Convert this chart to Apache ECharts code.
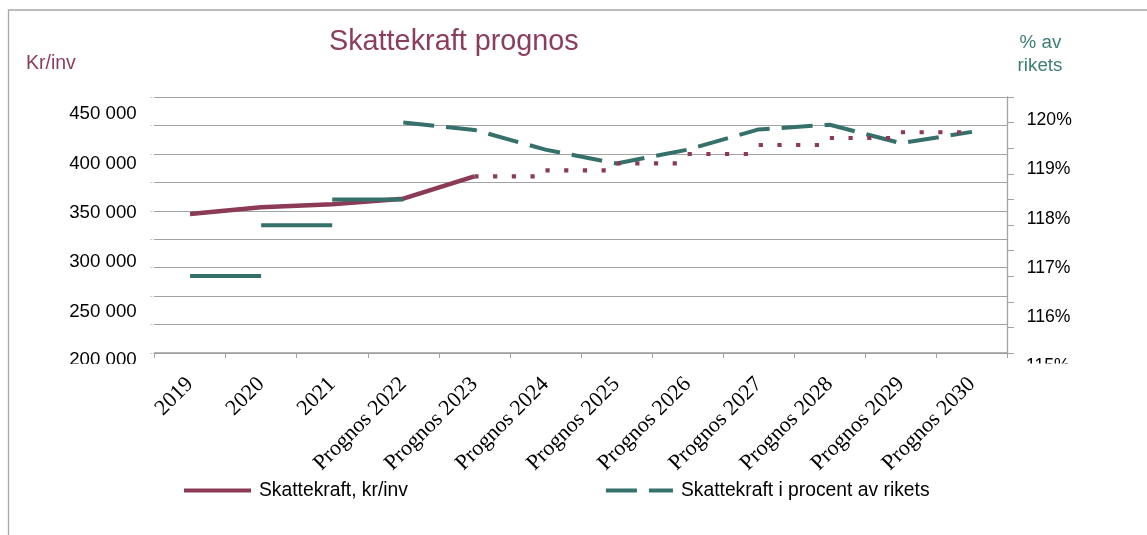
<!DOCTYPE html>
<html>
<head>
<meta charset="utf-8">
<script src="https://cdn.jsdelivr.net/npm/echarts@6/dist/echarts.min.js"></script>
<style>
html,body{margin:0;padding:0;background:#ffffff;}
#c{width:1147px;height:535px;}
</style>
</head>
<body>
<div id="c"></div>
<script>
// ---- data ----
const categories = ['2019', '2020', '2021', 'Prognos 2022', 'Prognos 2023', 'Prognos 2024',
  'Prognos 2025', 'Prognos 2026', 'Prognos 2027', 'Prognos 2028', 'Prognos 2029', 'Prognos 2030'];
// Skattekraft kr/inv, solid line 2019–2023
const krHistorik = [348800, 355600, 358600, 364300, 386900];
// Skattekraft kr/inv, dotted step segments starting at Prognos 2023 … Prognos 2029
const krStegStart = 'Prognos 2023';
const krPrognosSteg = [386900, 393000, 400100, 409500, 418600, 425700, 431500];
// Skattekraft i procent av rikets, solid step segments 2019–2021
const procentHistorik = [116.84, 117.87, 118.39];
// Skattekraft i procent av rikets, dashed line Prognos 2022 … Prognos 2030
const procentStart = 'Prognos 2022';
const procentPrognos = [119.95, 119.80, 119.40, 119.12, 119.40, 119.81, 119.905, 119.53, 119.76];
// tick labels
const leftTicks = [250000, 300000, 350000, 400000, 450000];
const rightTicks = [116, 117, 118, 119, 120];
const leftClippedTick = 200000;
const rightClippedTick = 115;

// ---- styles ----
const MAROON = '#8B3A57';
const TEAL = '#35706B';
const TITLE_C = '#8C3D5C';
const TEAL_TXT = '#3C7D76';
const GRID = '#a3a3a3';
const SANS = '"Liberation Sans", Arial, sans-serif';
const SERIF = '"Liberation Serif", "Times New Roman", serif';
const fmt = v => String(v).replace(/\B(?=(\d{3})+(?!\d))/g, ' ');

const NAME_KR = 'Skattekraft, kr/inv';
const NAME_PCT = 'Skattekraft i procent av rikets';

const series = [];
series.push({
  name: NAME_KR, type: 'line', yAxisIndex: 0, data: krHistorik, symbol: 'none',
  lineStyle: { color: MAROON, width: 4.5 }, itemStyle: { color: MAROON }, z: 3
});
const krIdx = categories.indexOf(krStegStart);
krPrognosSteg.forEach((v, i) => {
  series.push({
    name: NAME_KR + ' ', type: 'line', yAxisIndex: 0, symbol: 'none',
    data: [[krIdx + i, v], [krIdx + i + 1, v]],
    lineStyle: { color: MAROON, width: 4.2, type: [4.2, 14.5], cap: 'butt' }, itemStyle: { color: MAROON }, z: 4
  });
});
const pIdx = categories.indexOf(procentStart);
series.push({
  name: NAME_PCT, type: 'line', yAxisIndex: 1, symbol: 'none',
  data: categories.map((c, i) => i < pIdx ? '-' : procentPrognos[i - pIdx]),
  lineStyle: { color: TEAL, width: 4, type: [31, 12], cap: 'butt' }, itemStyle: { color: TEAL }, z: 3
});
procentHistorik.forEach((v, i) => {
  series.push({
    name: NAME_PCT + ' ', type: 'line', yAxisIndex: 1, symbol: 'none',
    data: [[i, v], [i + 1, v]],
    lineStyle: { color: TEAL, width: 4, cap: 'butt' }, itemStyle: { color: TEAL }, z: 5
  });
});

const chart = echarts.init(document.getElementById('c'), null, { renderer: 'canvas' });
chart.setOption({
  animation: false,
  backgroundColor: '#ffffff',
  grid: { left: 154.5, right: 139.5, top: 97, bottom: 182, containLabel: false },
  legend: {
    data: [NAME_KR, NAME_PCT],
    left: 182, top: 481, padding: 0, itemWidth: 67, itemHeight: 20, itemGap: 196,
    lineStyle: { width: 4 },
    itemStyle: { opacity: 0 },
    textStyle: { fontFamily: SANS, fontSize: 19.3, color: '#000', padding: [0, 0, 0, 3] }
  },
  xAxis: {
    type: 'category', data: categories, boundaryGap: true,
    axisLine: { show: true, onZero: false, lineStyle: { color: '#9c9c9c', width: 1.5 } },
    axisTick: { show: true, interval: 0, length: 5, lineStyle: { color: GRID, width: 1 } },
    axisLabel: { interval: 0, rotate: 45, margin: 28, fontFamily: SERIF, fontSize: 22, color: '#000' },
    splitLine: { show: false }
  },
  yAxis: [
    {
      type: 'value', position: 'left', min: 208100, max: 467200,
      axisLine: { show: false }, axisTick: { show: false }, splitLine: { show: false },
      axisLabel: { customValues: leftTicks, formatter: v => fmt(v), margin: 17.8,
        fontFamily: SANS, fontSize: 18.7, color: '#000' }
    },
    {
      type: 'value', position: 'right', min: 115.283, max: 120.466,
      axisLine: { show: false }, axisTick: { show: false }, splitLine: { show: false },
      axisLabel: { customValues: rightTicks, formatter: v => v + '%', margin: 19.3,
        fontFamily: SANS, fontSize: 17.6, color: '#000' }
    },
    {
      type: 'value', position: 'left', min: 0, max: 9, interval: 1,
      axisLine: { show: false }, axisLabel: { show: false },
      axisTick: { show: true, length: 5, lineStyle: { color: GRID, width: 1, type: [1, 2] } },
      splitLine: { show: true, lineStyle: { color: GRID, width: 1 } }
    },
    {
      type: 'value', position: 'right', min: 0, max: 10, interval: 1,
      axisLine: { show: true, onZero: false, lineStyle: { color: GRID, width: 1.3 } },
      axisLabel: { show: false }, splitLine: { show: false },
      axisTick: { show: true, length: 6.5, lineStyle: { color: GRID, width: 1 } }
    }
  ],
  series: series,
  graphic: [
    { type: 'rect', z: -1, silent: true, shape: { x: 8.5, y: 10, width: 1300, height: 700 },
      style: { fill: 'transparent', stroke: '#a8a8a8', lineWidth: 1.3 } },
    { type: 'text', z: 10, style: { text: 'Skattekraft prognos', x: 329, y: 42, verticalAlign: 'middle',
      font: '28.8px ' + SANS, fill: TITLE_C } },
    { type: 'text', z: 10, style: { text: 'Kr/inv', x: 26, y: 63.5, verticalAlign: 'middle',
      font: '19.5px ' + SANS, fill: TITLE_C } },
    { type: 'text', z: 10, style: { text: '% av', x: 1040.5, y: 43, align: 'center', verticalAlign: 'middle',
      font: '18.8px ' + SANS, fill: TEAL_TXT } },
    { type: 'text', z: 10, style: { text: 'rikets', x: 1040, y: 66, align: 'center', verticalAlign: 'middle',
      font: '18.8px ' + SANS, fill: TEAL_TXT } },
    { type: 'text', z: 10, style: { text: fmt(leftClippedTick), x: 136.7, y: 359.5, align: 'right', verticalAlign: 'middle',
      font: '18.7px ' + SANS, fill: '#000' } },
    { type: 'text', z: 10, style: { text: rightClippedTick + '%', x: 1026, y: 366, align: 'left', verticalAlign: 'middle',
      font: '17.6px ' + SANS, fill: '#000' } },
    { type: 'rect', z: 11, silent: true, shape: { x: 40, y: 364, width: 108, height: 14 }, style: { fill: '#ffffff' } },
    { type: 'rect', z: 11, silent: true, shape: { x: 1015, y: 363.5, width: 90, height: 14 }, style: { fill: '#ffffff' } }
  ]
});
</script>
</body>
</html>
